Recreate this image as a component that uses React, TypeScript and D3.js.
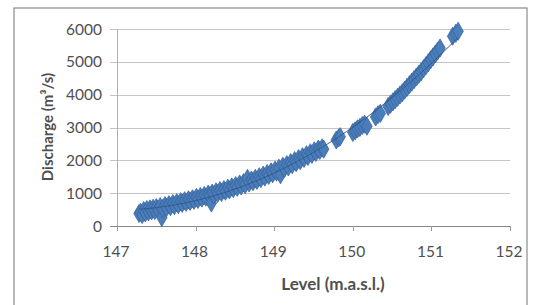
import React from "react";
import * as d3 from "d3";

const levels: number[] = [
  147.28, 147.3, 147.32, 147.34, 147.36, 147.38, 147.4, 147.42, 147.44, 147.46, 147.48, 147.5, 147.52, 147.55,
  147.57, 147.58, 147.61, 147.63, 147.66, 147.68, 147.71, 147.73, 147.76, 147.78, 147.81, 147.83, 147.86, 147.88,
  147.91, 147.93, 147.96, 147.98, 148.01, 148.03, 148.06, 148.08, 148.11, 148.13, 148.16, 148.18, 148.2, 148.21,
  148.23, 148.26, 148.28, 148.31, 148.33, 148.36, 148.38, 148.41, 148.43, 148.46, 148.48, 148.51, 148.53, 148.56,
  148.58, 148.61, 148.63, 148.66, 148.68, 148.71, 148.73, 148.76, 148.78, 148.81, 148.83, 148.86, 148.88, 148.91,
  148.93, 148.96, 148.98, 149.01, 149.03, 149.06, 149.08, 149.11, 149.13, 149.16, 149.18, 149.21, 149.23, 149.26,
  149.28, 149.31, 149.33, 149.36, 149.38, 149.41, 149.43, 149.46, 149.48, 149.51, 149.53, 149.56, 149.58, 149.61,
  149.63,
  149.79, 149.82, 149.84,
  150.0, 150.03, 150.06, 150.09, 150.12, 150.15, 150.18,
  150.29, 150.32, 150.35,
  150.45, 150.48, 150.51, 150.54, 150.57, 150.6, 150.63, 150.66, 150.69, 150.72, 150.75, 150.78, 150.81, 150.84,
  150.87, 150.9, 150.93, 150.96, 150.99, 151.02, 151.05, 151.08, 151.11,
  151.27, 151.31, 151.34,
];

const discharges: number[] = [
  380, 420, 350, 470, 400, 500, 430, 520, 460, 540, 470, 560, 500, 590,
  260, 530, 620, 560, 650, 590, 680, 620, 710, 650, 740, 690, 770, 720,
  800, 750, 830, 780, 870, 810, 900, 850, 930, 880, 970, 920, 700, 1000,
  950, 1040, 990, 1080, 1020, 1110, 1060, 1150, 1100, 1190, 1140, 1230, 1180, 1280,
  1220, 1320, 1260, 1450, 1310, 1400, 1350, 1450, 1390, 1500, 1440, 1550, 1490, 1600,
  1540, 1650, 1590, 1700, 1640, 1760, 1560, 1820, 1750, 1870, 1800, 1930, 1870, 1990,
  1930, 2050, 1990, 2110, 2060, 2170, 2120, 2230, 2180, 2290, 2240, 2340, 2300, 2380,
  2340,
  2620, 2680, 2720,
  2850, 2900, 2960, 3000, 3060, 3100, 3040,
  3320, 3390, 3430,
  3640, 3710, 3780, 3850, 3920, 3990, 4060, 4140, 4220, 4300, 4380, 4460, 4540, 4620,
  4700, 4790, 4880, 4970, 5060, 5150, 5240, 5330, 5420,
  5780, 5870, 5930,
];

const xTicks: number[] = [147, 148, 149, 150, 151, 152];
const yTicks: number[] = [0, 1000, 2000, 3000, 4000, 5000, 6000];

const xTitle = "Level (m.a.s.l.)";
const yTitle = "Discharge (m³/s)";

// quadratic least-squares trendline (like Excel's polynomial trendline)
function quadFit(xs: number[], ys: number[]) {
  const x0 = 149;
  let s0 = 0, s1 = 0, s2 = 0, s3 = 0, s4 = 0, t0 = 0, t1 = 0, t2 = 0;
  xs.forEach((xv, i) => {
    const u = xv - x0;
    const yv = ys[i];
    s0 += 1; s1 += u; s2 += u * u; s3 += u * u * u; s4 += u * u * u * u;
    t0 += yv; t1 += u * yv; t2 += u * u * yv;
  });
  const M = [
    [s0, s1, s2, t0],
    [s1, s2, s3, t1],
    [s2, s3, s4, t2],
  ];
  for (let i = 0; i < 3; i++) {
    for (let j = i + 1; j < 3; j++) {
      const f = M[j][i] / M[i][i];
      for (let k = i; k < 4; k++) M[j][k] -= f * M[i][k];
    }
  }
  const c = [0, 0, 0];
  for (let i = 2; i >= 0; i--) {
    let s = M[i][3];
    for (let k = i + 1; k < 3; k++) s -= M[i][k] * c[k];
    c[i] = s / M[i][i];
  }
  return (xv: number) => {
    const u = xv - x0;
    return c[0] + c[1] * u + c[2] * u * u;
  };
}

export default function App() {
  const W = 537, H = 305;
  const x = d3.scaleLinear().domain([147, 152]).range([117, 510]);
  const y = d3.scaleLinear().domain([0, 6000]).range([226, 29]);
  const font = "Lato, 'Open Sans', sans-serif";
  const textColor = "#4f4f4f";

  const fit = quadFit(levels, discharges);
  const lo = d3.min(levels) as number;
  const hi = d3.max(levels) as number;
  const trendPts = d3.range(0, 101).map((i) => lo + ((hi - lo) * i) / 100);
  const trendPath = d3
    .line<number>()
    .x((d) => x(d))
    .y((d) => y(fit(d)))(trendPts) as string;

  const sym = d3.symbol().type(d3.symbolDiamond).size(95)() as string;

  return (
    <svg
      width={W}
      height={H}
      style={{ position: "absolute", left: 0, top: 0, background: "#fff" }}
    >
      <rect x={14} y={8} width={513} height={320} fill="#fff" stroke="#8a8a8a" strokeWidth={1.2} />
      {/* gridlines */}
      {yTicks.map((t) => (
        <line
          key={"g" + t}
          x1={110}
          x2={510}
          y1={Math.round(y(t)) + 0.5}
          y2={Math.round(y(t)) + 0.5}
          stroke={t === 0 ? "#868686" : "#c4c4c4"}
          strokeWidth={1}
        />
      ))}
      {/* y axis line */}
      <line x1={117.5} x2={117.5} y1={y(6000)} y2={y(0)} stroke="#b0b0b0" strokeWidth={1} />
      {/* x ticks */}
      {xTicks.map((t) => (
        <line
          key={"xt" + t}
          x1={Math.round(x(t)) + 0.5}
          x2={Math.round(x(t)) + 0.5}
          y1={y(0)}
          y2={y(0) + 5}
          stroke="#9a9a9a"
          strokeWidth={1}
        />
      ))}
      {/* y tick labels */}
      {yTicks.map((t) => (
        <text
          key={"yl" + t}
          x={102}
          y={y(t)}
          dy="0.36em"
          textAnchor="end"
          fontFamily={font}
          fontSize={15.5}
          fill={textColor}
        >
          {t}
        </text>
      ))}
      {/* x tick labels */}
      {xTicks.map((t) => (
        <text
          key={"xl" + t}
          x={x(t) - 1}
          y={257}
          textAnchor="middle"
          fontFamily={font}
          fontSize={15.5}
          fill={textColor}
        >
          {t}
        </text>
      ))}
      {/* trendline */}
      <path d={trendPath} fill="none" stroke="#9aa6b8" strokeWidth={1} />
      {/* data points */}
      {levels.map((l, i) => (
        <path
          key={"p" + i}
          d={sym}
          transform={`translate(${x(l)},${y(discharges[i])})`}
          fill="#4a7ebb"
          stroke="#3b67a0"
          strokeWidth={0.8}
        />
      ))}
      {/* trendline visible through markers */}
      <path d={trendPath} fill="none" stroke="#22406a" strokeWidth={1} opacity={0.55} />
      {/* axis titles */}
      <text
        x={333}
        y={290}
        textAnchor="middle"
        fontFamily={font}
        fontSize={17}
        fontWeight="bold"
        fill={textColor}
      >
        {xTitle}
      </text>
      <text
        transform="translate(53,127) rotate(-90)"
        textAnchor="middle"
        fontFamily={font}
        fontSize={15}
        fontWeight="bold"
        fill={textColor}
      >
        {yTitle}
      </text>
    </svg>
  );
}
